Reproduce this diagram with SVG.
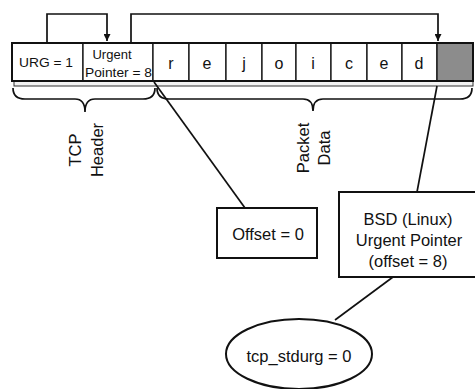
<svg xmlns="http://www.w3.org/2000/svg" width="475" height="389" viewBox="0 0 475 389">
  <defs>
    <style>
      text { font-family: "Liberation Sans", Arial, sans-serif; fill: #111; }
      .cell { fill: #fff; stroke: #111; stroke-width: 1.3; }
      .box { fill: #fff; stroke: #111; stroke-width: 2; }
      .line { fill: none; stroke: #111; stroke-width: 1.7; }
      .ch { font-size: 16px; text-anchor: middle; }
      .lbl { font-size: 16.5px; text-anchor: middle; }
    </style>
    <marker id="arr" viewBox="0 0 10 10" refX="10" refY="5" markerWidth="7" markerHeight="7" orient="auto" markerUnits="userSpaceOnUse">
      <path d="M0,0 L10,5 L0,10 z" fill="#111"/>
    </marker>
  </defs>
  <rect width="475" height="389" fill="#fff"/>

  <g id="packet">
    <rect x="14" y="81" width="459" height="5" fill="#f2f2f2" stroke="#333" stroke-width="1"/>
    <rect class="cell" x="12" y="43" width="71" height="38"/>
    <rect class="cell" x="83" y="43" width="70" height="38"/>
    <rect class="cell" x="153" y="43" width="36" height="38"/>
    <rect class="cell" x="189" y="43" width="37" height="38"/>
    <rect class="cell" x="226" y="43" width="36" height="38"/>
    <rect class="cell" x="262" y="43" width="34" height="38"/>
    <rect class="cell" x="296" y="43" width="35" height="38"/>
    <rect class="cell" x="331" y="43" width="36" height="38"/>
    <rect class="cell" x="367" y="43" width="35" height="38"/>
    <rect class="cell" x="402" y="43" width="35" height="38"/>
    <rect x="437" y="43" width="36" height="38" fill="#8c8c8c" stroke="#111" stroke-width="1.3"/>
    <rect x="12" y="43" width="461" height="38" fill="none" stroke="#111" stroke-width="2"/>
    <text x="46" y="67" font-size="13" text-anchor="middle" textLength="54" lengthAdjust="spacingAndGlyphs">URG = 1</text>
    <text x="112" y="59" font-size="13" text-anchor="middle">Urgent</text>
    <text x="118.5" y="77" font-size="13" text-anchor="middle" textLength="67" lengthAdjust="spacingAndGlyphs">Pointer = 8</text>
    <text class="ch" x="171" y="69">r</text>
    <text class="ch" x="207" y="69">e</text>
    <text class="ch" x="244" y="69">j</text>
    <text class="ch" x="279" y="69">o</text>
    <text class="ch" x="313" y="69">i</text>
    <text class="ch" x="349" y="69">c</text>
    <text class="ch" x="384" y="69">e</text>
    <text class="ch" x="419" y="69">d</text>
  </g>

  <g id="tcp-header">
    <path class="line" d="M13,88 Q13,99 25,99 L75,99 Q85,99 85,112 Q85,99 95,99 L143,99 Q155,99 155,88"/>
    <text font-size="16.5" text-anchor="middle" transform="translate(81,150) rotate(-90)">TCP</text>
    <text font-size="16.5" text-anchor="middle" transform="translate(103,150) rotate(-90)">Header</text>
  </g>

  <g id="packet-data">
    <path class="line" d="M157,88 Q157,99 169,99 L303,99 Q313,99 313,111 Q313,99 323,99 L460,99 Q472,99 472,88"/>
    <text font-size="16.5" text-anchor="middle" transform="translate(309,148) rotate(-90)">Packet</text>
    <text font-size="16.5" text-anchor="middle" transform="translate(330,148) rotate(-90)">Data</text>
  </g>

  <g id="connectors">
    <path class="line" d="M47,43 V14 H107 V41" marker-end="url(#arr)"/>
    <path class="line" d="M131,43 V14 H438 V41" marker-end="url(#arr)"/>
    <line class="line" x1="154" y1="82" x2="245" y2="208"/>
    <line class="line" x1="437" y1="86" x2="417" y2="192"/>
    <line class="line" x1="393" y1="277" x2="335" y2="320"/>
  </g>

  <g id="offset">
    <rect class="box" x="217" y="208" width="100" height="50"/>
    <text class="lbl" x="268" y="240">Offset = 0</text>
  </g>

  <g id="bsd">
    <rect class="box" x="339" y="192" width="142" height="85"/>
    <text class="lbl" x="408" y="225">BSD (Linux)</text>
    <text class="lbl" x="409" y="246">Urgent Pointer</text>
    <text class="lbl" x="408" y="267">(offset = 8)</text>
  </g>

  <g id="tcp-stdurg">
    <ellipse class="box" cx="299" cy="354" rx="73" ry="35"/>
    <text class="lbl" x="299" y="362">tcp_stdurg = 0</text>
  </g>
</svg>
